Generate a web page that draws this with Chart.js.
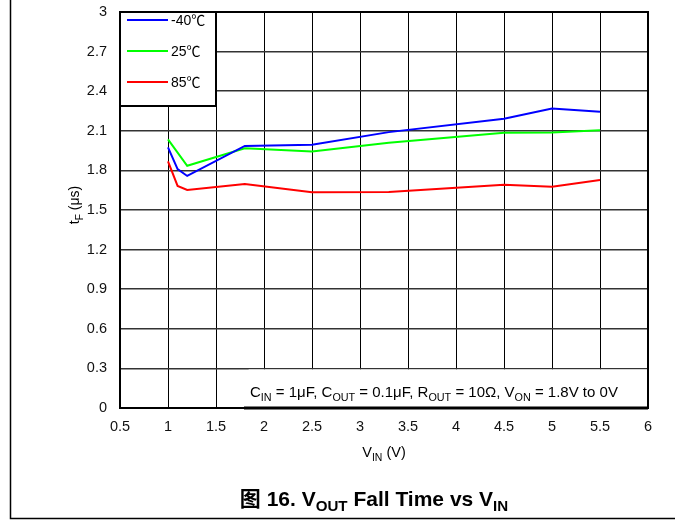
<!DOCTYPE html>
<html><head><meta charset="utf-8">
<script src="https://cdn.jsdelivr.net/npm/chart.js@4"></script>
<style>html,body{margin:0;padding:0;background:#fff}#wrap{width:675px;height:525px;position:relative}</style>
</head><body><div id="wrap"><canvas id="c" width="675" height="525"></canvas></div>
<script>
// ---- data ----
const vinM40 = [1, 1.1, 1.2, 1.8, 2.5, 3.3, 4.5, 5, 5.5];
const tfM40  = [1.975, 1.81, 1.758, 1.985, 1.995, 2.09, 2.192, 2.268, 2.244];
const vin25  = [1, 1.2, 1.8, 2.5, 3.3, 4.5, 5, 5.5];
const tf25   = [2.035, 1.835, 1.968, 1.944, 2.01, 2.086, 2.088, 2.104];
const vin85  = [1, 1.1, 1.2, 1.8, 2.5, 3.3, 4.5, 5, 5.5];
const tf85   = [1.869, 1.682, 1.652, 1.697, 1.634, 1.636, 1.692, 1.677, 1.727];
const seriesLabels = ['-40℃', '25℃', '85℃'];
const seriesColors = ['#0000FF', '#00FF00', '#FF0000'];
const xTickValues = [0.5, 1, 1.5, 2, 2.5, 3, 3.5, 4, 4.5, 5, 5.5, 6];
const xTickLabels = ['0.5', '1', '1.5', '2', '2.5', '3', '3.5', '4', '4.5', '5', '5.5', '6'];
const yTickValues = [0, 0.3, 0.6, 0.9, 1.2, 1.5, 1.8, 2.1, 2.4, 2.7, 3];
const yTickLabels = ['0', '0.3', '0.6', '0.9', '1.2', '1.5', '1.8', '2.1', '2.4', '2.7', '3'];
const titleParts = [['图 16. V', false], ['OUT', true], [' Fall Time vs V', false], ['IN', true]];
const xTitleParts = [['V', false], ['IN', true], [' (V)', false]];
const yTitleParts = [['t', false], ['F', true], [' (μs)', false]];
const noteParts = [['C', false], ['IN', true], [' = 1μF, C', false], ['OUT', true], [' = 0.1μF, R', false], ['OUT', true], [' = 10Ω, V', false], ['ON', true], [' = 1.8V to 0V', false]];

const FAMILY = "'Liberation Sans', Arial, 'Noto Sans CJK SC', sans-serif";

function pts(xs, ys) { return xs.map((x, i) => ({x: x, y: ys[i]})); }

function richWidth(ctx, parts, size, weight) {
  let w = 0;
  for (const [t, sub] of parts) {
    ctx.font = weight + ' ' + (sub ? size * 0.72 : size) + 'px ' + FAMILY;
    w += ctx.measureText(t).width;
  }
  return w;
}
function drawRich(ctx, parts, x, y, size, weight, align) {
  const w = richWidth(ctx, parts, size, weight);
  let cx = align === 'center' ? x - w / 2 : x;
  ctx.textBaseline = 'alphabetic';
  ctx.textAlign = 'left';
  for (const [t, sub] of parts) {
    ctx.font = weight + ' ' + (sub ? size * 0.72 : size) + 'px ' + FAMILY;
    ctx.fillText(t, cx, sub ? y + size * 0.25 : y);
    cx += ctx.measureText(t).width;
  }
}

const decor = {
  id: 'decor',
  beforeDraw(chart) {
    const ctx = chart.ctx;
    ctx.save();
    ctx.fillStyle = '#fff';
    ctx.fillRect(0, 0, chart.width, chart.height);
    ctx.strokeStyle = '#000';
    ctx.lineWidth = 1.5;
    ctx.beginPath();
    ctx.moveTo(10.5, 0);
    ctx.lineTo(10.5, 518.5);
    ctx.lineTo(675, 518.5);
    ctx.stroke();
    ctx.restore();
  },
  beforeDatasetsDraw(chart) {
    const ctx = chart.ctx, a = chart.chartArea;
    const xs = chart.scales.x, ys = chart.scales.y;
    ctx.save();
    ctx.fillStyle = '#fff';
    const l = xs.getPixelForValue(1.84), t = ys.getPixelForValue(0.3) + 1;
    ctx.fillRect(l, t, a.right - l, a.bottom - t);
    ctx.restore();
  },
  afterDatasetsDraw(chart) {
    const ctx = chart.ctx, a = chart.chartArea;
    ctx.save();
    // plot frame
    ctx.strokeStyle = '#000';
    ctx.lineWidth = 2;
    ctx.strokeRect(a.left, a.top, a.right - a.left, a.bottom - a.top);
    ctx.lineWidth = 3;
    ctx.beginPath();
    ctx.moveTo(a.left + 124, a.bottom);
    ctx.lineTo(a.right, a.bottom);
    ctx.stroke();
    // legend
    const lw = 96, lh = 94;
    ctx.fillStyle = '#fff';
    ctx.fillRect(a.left, a.top, lw, lh);
    ctx.lineWidth = 2;
    ctx.strokeRect(a.left, a.top, lw, lh);
    chart.data.datasets.forEach((ds, i) => {
      const y = a.top + 8 + i * 31;
      ctx.strokeStyle = ds.borderColor;
      ctx.lineWidth = 2;
      ctx.beginPath();
      ctx.moveTo(a.left + 7, y);
      ctx.lineTo(a.left + 48, y);
      ctx.stroke();
      ctx.fillStyle = '#000';
      ctx.font = '14px ' + FAMILY;
      ctx.textAlign = 'left';
      ctx.textBaseline = 'middle';
      ctx.fillText(ds.label, a.left + 51, y + 1);
    });
    // annotation
    ctx.fillStyle = '#000';
    drawRich(ctx, noteParts, 250, 397, 15, 'normal', 'left');
    // axis titles
    drawRich(ctx, xTitleParts, (a.left + a.right) / 2, 457, 14.5, 'normal', 'center');
    ctx.save();
    ctx.translate(79, 205);
    ctx.rotate(-Math.PI / 2);
    drawRich(ctx, yTitleParts, 0, 0, 14, 'normal', 'center');
    ctx.restore();
    // figure title
    drawRich(ctx, titleParts, 374, 506, 21, 'bold', 'center');
    ctx.restore();
  }
};

new Chart(document.getElementById('c'), {
  type: 'line',
  data: {
    datasets: [
      {label: seriesLabels[0], data: pts(vinM40, tfM40), borderColor: seriesColors[0]},
      {label: seriesLabels[1], data: pts(vin25, tf25), borderColor: seriesColors[1]},
      {label: seriesLabels[2], data: pts(vin85, tf85), borderColor: seriesColors[2]}
    ]
  },
  options: {
    responsive: false,
    animation: false,
    layout: {padding: {top: 12, right: 27, bottom: 0, left: 0}},
    elements: {
      line: {borderWidth: 2, tension: 0, fill: false},
      point: {radius: 0}
    },
    plugins: {legend: {display: false}, tooltip: {enabled: false}},
    scales: {
      x: {
        type: 'linear', min: 0.5, max: 6,
        afterBuildTicks(s) { s.ticks = xTickValues.map(v => ({value: v})); },
        afterFit(s) { s.height = 117; s.paddingLeft = 0; s.paddingRight = 0; },
        grid: {color: '#000', lineWidth: 1, drawTicks: false},
        border: {display: true, color: '#000', width: 2},
        ticks: {
          padding: 10, color: '#111', font: {size: 14.5, family: FAMILY},
          maxRotation: 0, autoSkip: false,
          callback(v, i) { return xTickLabels[i]; }
        }
      },
      y: {
        type: 'linear', min: 0, max: 3,
        afterBuildTicks(s) { s.ticks = yTickValues.map(v => ({value: v})); },
        afterFit(s) { s.width = 120; s.paddingTop = 0; s.paddingBottom = 0; },
        grid: {color: '#333', lineWidth: 1.5, drawTicks: false},
        border: {display: true, color: '#000', width: 2},
        ticks: {
          padding: 13, color: '#111', font: {size: 14.5, family: FAMILY},
          autoSkip: false,
          callback(v, i) { return yTickLabels[i]; }
        }
      }
    }
  },
  plugins: [decor]
});
</script>
</body></html>
